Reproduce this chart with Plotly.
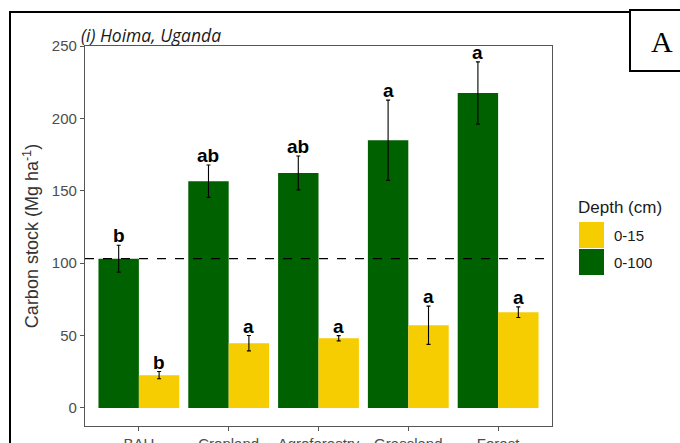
import plotly.graph_objects as go

categories = ["BAU", "Cropland", "Agroforestry", "Grassland", "Forest"]
depth_labels = ["0-15", "0-100"]
stock_0_100 = [103.1, 156.6, 162.3, 184.9, 217.5]
se_0_100 = [9.3, 11.2, 11.7, 27.7, 21.5]
stock_0_15 = [22.6, 44.7, 48.1, 57.1, 66.1]
se_0_15 = [2.5, 5.3, 1.8, 13.2, 3.7]
letters_0_100 = ["b", "ab", "ab", "a", "a"]
letters_0_15 = ["b", "a", "a", "a", "a"]
y_ticks = [0, 50, 100, 150, 200, 250]

GREEN = "#006100"
YELLOW = "#F6CD00"
W, H = 680, 443
L, R, T, B = 85, 552, 46, 426  # plot panel in pixels

def px(x):
    return (x - L) / (R - L)

def py(y):
    return (B - y) / (B - T)

fig = go.Figure()
fig.add_trace(go.Bar(
    x=categories, y=stock_0_100, name=depth_labels[1], marker_color=GREEN,
    marker_line_width=0,
    error_y=dict(type="data", array=se_0_100, color="black", thickness=1.1, width=2),
    showlegend=False))
fig.add_trace(go.Bar(
    x=categories, y=stock_0_15, name=depth_labels[0], marker_color=YELLOW,
    marker_line_width=0,
    error_y=dict(type="data", array=se_0_15, color="black", thickness=1.1, width=2),
    showlegend=False))

letter_font = dict(family="Liberation Sans", size=19, color="black", weight="bold")
annotations = []
for i in range(len(categories)):
    annotations.append(dict(x=i - 0.225, y=stock_0_100[i] + se_0_100[i], xref="x", yref="y",
                            text=letters_0_100[i], showarrow=False, yanchor="bottom", yshift=-3,
                            font=letter_font))
    annotations.append(dict(x=i + 0.225, y=stock_0_15[i] + se_0_15[i], xref="x", yref="y",
                            text=letters_0_15[i], showarrow=False, yanchor="bottom", yshift=-3,
                            font=letter_font))

# title
annotations.append(dict(x=px(79), y=py(35), xref="paper", yref="paper", text="<i>(i) Hoima, Uganda</i>",
                        showarrow=False, xanchor="left", yanchor="middle",
                        font=dict(family="Open Sans", size=17.5, color="#1a1a1a")))
# panel label A
annotations.append(dict(x=px(662), y=py(42), xref="paper", yref="paper", text="A",
                        showarrow=False, xanchor="center", yanchor="middle",
                        font=dict(family="Liberation Serif", size=30, color="black")))
# manual legend
annotations.append(dict(x=px(576), y=py(207), xref="paper", yref="paper", text="Depth (cm)",
                        showarrow=False, xanchor="left", yanchor="middle",
                        font=dict(family="Liberation Sans", size=17, color="#1a1a1a")))
leg_colors = [YELLOW, GREEN]
shapes = []
for k, (lab, col) in enumerate(zip(depth_labels, leg_colors)):
    y0 = 222 + k * 27
    shapes.append(dict(type="rect", xref="paper", yref="paper", x0=px(579), x1=px(604),
                       y0=py(y0 + 26), y1=py(y0), fillcolor=col, line=dict(width=0)))
    annotations.append(dict(x=px(612), y=py(y0 + 13), xref="paper", yref="paper", text=lab,
                            showarrow=False, xanchor="left", yanchor="middle",
                            font=dict(family="Liberation Sans", size=15, color="#1a1a1a")))

# dashed reference line at BAU 0-100 level
shapes.append(dict(type="line", xref="paper", yref="y", x0=0, x1=1, y0=stock_0_100[0], y1=stock_0_100[0],
                   line=dict(color="black", width=1.1, dash="dash")))
# outer frame
shapes.append(dict(type="rect", xref="paper", yref="paper", x0=px(10), x1=px(700), y0=py(470), y1=py(12),
                   line=dict(color="black", width=2), fillcolor="rgba(0,0,0,0)", layer="above"))
# A box
shapes.append(dict(type="rect", xref="paper", yref="paper", x0=px(630), x1=px(700), y0=py(71), y1=py(10),
                   line=dict(color="black", width=2), fillcolor="white", layer="above"))

fig.update_layout(
    width=W, height=H,
    margin=dict(l=L, r=W - R, t=T, b=H - B, autoexpand=False),
    paper_bgcolor="white", plot_bgcolor="white",
    barmode="group", bargap=0.1, bargroupgap=0,
    showlegend=False,
    annotations=annotations, shapes=shapes,
    font=dict(family="Liberation Sans"),
)
fig.update_xaxes(
    range=[-0.6, 4.6], showgrid=False, showline=True, mirror=True, linecolor="#555555", linewidth=1.2,
    ticks="outside", ticklen=4, tickcolor="#555555", tickfont=dict(family="Liberation Sans", size=15, color="#4d4d4d"),
    automargin=False, zeroline=False)
fig.update_yaxes(
    range=[-12.5, 250], tickvals=y_ticks, showgrid=False, showline=True, mirror=True, linecolor="#555555",
    linewidth=1.2, ticks="outside", ticklen=4, tickcolor="#555555",
    tickfont=dict(family="Liberation Sans", size=15, color="#4d4d4d"), zeroline=False,
    title=dict(text="Carbon stock (Mg ha<sup>-1</sup>)", font=dict(family="Liberation Sans", size=18, color="#333333"),
               standoff=8),
    automargin=False)

fig.write_html("out.html")
